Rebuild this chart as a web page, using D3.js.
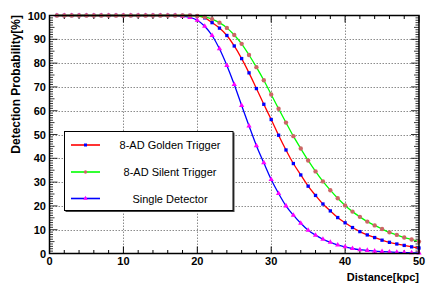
<!DOCTYPE html>
<html>
<head>
<meta charset="utf-8">
<script src="https://cdn.jsdelivr.net/npm/d3@7"></script>
<style>
body { margin:0; background:#fff; }
text { font-family: "Liberation Sans", Arial, sans-serif; }
</style>
</head>
<body>
<div id="graph"></div>
<script>
// distance in kpc
var distance = d3.range(1, 51);

// detection probability [%] per kpc
var golden = [100,100,100,100,100,100,100,100,100,100,100,100,100,100,100,100,100,100,100,99.8,
  99.0,97.0,94.7,91.6,87.2,81.9,75.9,69.3,62.7,56.3,
  49.7,43.5,37.8,33.0,28.3,24.4,20.8,17.9,15.1,12.9,
  10.9,9.2,7.8,6.7,5.6,4.7,4.0,3.4,2.8,2.3];
var silent = [100,100,100,100,100,100,100,100,100,100,100,100,100,100,100,100,100,100,100,99.8,
  99.4,98.5,97.0,94.8,91.8,88.1,83.4,78.3,72.8,66.8,
  60.8,55.0,49.3,44.1,39.1,34.5,30.3,26.6,23.2,20.2,
  17.6,15.4,13.4,11.8,10.3,8.9,7.8,6.7,5.9,5.0];
var single = [100,100,100,100,100,100,100,100,100,100,100,100,100,100,100,100,100,99.7,99.2,98.0,
  95.5,91.6,86.0,79.0,71.0,62.2,53.6,45.3,38.1,31.1,
  25.2,20.0,16.1,12.7,9.8,7.7,6.0,4.7,3.6,2.8,
  2.1,1.6,1.3,1.0,0.8,0.65,0.5,0.4,0.3,0.25];

var xTicks = [0,10,20,30,40,50];
var yTicks = [0,10,20,30,40,50,60,70,80,90,100];
var legendNames = ["8-AD Golden Trigger", "8-AD Silent Trigger", "Single Detector"];

var w = 436, h = 291;
var fLeft = 49.5, fRight = 419, fTop = 15.5, fBottom = 253.5;

var svg = d3.select("#graph").append("svg")
  .attr("width", w).attr("height", h);

var x = d3.scaleLinear().domain([0, 50]).range([fLeft, fRight]);
var y = d3.scaleLinear().domain([0, 100]).range([fBottom, fTop]);

// grid
var grid = svg.append("g").attr("stroke", "#8c8c8c").attr("stroke-width", 1)
  .attr("stroke-dasharray", "1.5,1.5");
grid.selectAll("line.gx").data(xTicks.slice(1, -1)).enter().append("line")
  .attr("x1", function(d){ return Math.round(x(d)) + 0.5; })
  .attr("x2", function(d){ return Math.round(x(d)) + 0.5; })
  .attr("y1", fTop).attr("y2", fBottom);
grid.selectAll("line.gy").data(yTicks.slice(1, -1)).enter().append("line")
  .attr("y1", function(d){ return Math.round(y(d)) + 0.5; })
  .attr("y2", function(d){ return Math.round(y(d)) + 0.5; })
  .attr("x1", fLeft).attr("x2", fRight);

// ticks pointing inside the frame, on all four sides
var ax = svg.append("g");
var xMinor = d3.range(0, 51, 2);
ax.selectAll("line.xt").data(xMinor).enter().append("line")
  .attr("x1", function(d){ return x(d); }).attr("x2", function(d){ return x(d); })
  .attr("y1", fBottom).attr("y2", function(d){ return fBottom - (d % 10 == 0 ? 7 : 3.5); })
  .attr("stroke", "#000");
ax.selectAll("line.xt2").data(xMinor).enter().append("line")
  .attr("x1", function(d){ return x(d); }).attr("x2", function(d){ return x(d); })
  .attr("y1", fTop).attr("y2", function(d){ return fTop + (d % 10 == 0 ? 7 : 3.5); })
  .attr("stroke", "#000");
var yMinor = d3.range(0, 101, 1);
ax.selectAll("line.yt").data(yMinor).enter().append("line")
  .attr("y1", function(d){ return y(d); }).attr("y2", function(d){ return y(d); })
  .attr("x1", fLeft).attr("x2", function(d){ return fLeft + (d % 10 == 0 ? 8 : (d % 5 == 0 ? 5 : 3.5)); })
  .attr("stroke", "#000").attr("stroke-width", 0.8);
ax.selectAll("line.yt2").data(yMinor).enter().append("line")
  .attr("y1", function(d){ return y(d); }).attr("y2", function(d){ return y(d); })
  .attr("x1", fRight).attr("x2", function(d){ return fRight - (d % 10 == 0 ? 8 : (d % 5 == 0 ? 5 : 3.5)); })
  .attr("stroke", "#000").attr("stroke-width", 0.8);

// tick labels
svg.append("g").selectAll("text").data(xTicks).enter().append("text")
  .attr("x", function(d){ return x(d); }).attr("y", 265)
  .attr("text-anchor", "middle").attr("font-size", 11).attr("font-weight", "bold")
  .text(function(d){ return d; });
svg.append("g").selectAll("text").data(yTicks).enter().append("text")
  .attr("x", 46).attr("y", function(d){ return y(d) + 4; })
  .attr("text-anchor", "end").attr("font-size", 11).attr("font-weight", "bold")
  .text(function(d){ return d; });

// titles
svg.append("text").attr("x", 419).attr("y", 281)
  .attr("text-anchor", "end").attr("font-size", 11).attr("font-weight", "bold")
  .text("Distance[kpc]");
svg.append("text").attr("transform", "translate(20,15) rotate(-90)")
  .attr("text-anchor", "end").attr("font-size", 12).attr("font-weight", "bold")
  .text("Detection Probability[%]");

// series
var series = [
  { name: legendNames[2], values: single, line: "#0000ff", mark: "#ff00ff", shape: d3.symbolTriangle, size: 12 },
  { name: legendNames[0], values: golden, line: "#ff0000", mark: "#0000ff", shape: d3.symbolSquare, size: 11 },
  { name: legendNames[1], values: silent, line: "#00ff00", mark: "#cc6666", shape: d3.symbolCircle, size: 15 }
];

var line = d3.line()
  .x(function(d){ return x(d[0]); })
  .y(function(d){ return y(d[1]); })
  .curve(d3.curveMonotoneX);

var plot = svg.append("g");
series.forEach(function(s) {
  var pts = distance.map(function(d, i){ return [d, s.values[i]]; });
  plot.append("path").datum(pts)
    .attr("fill", "none").attr("stroke", s.line).attr("stroke-width", 1.3)
    .attr("d", line);
  plot.selectAll(null).data(pts).enter().append("path")
    .attr("transform", function(d){ return "translate(" + x(d[0]) + "," + y(d[1]) + ")"; })
    .attr("d", d3.symbol().type(s.shape).size(s.size))
    .attr("fill", s.mark);
});

// frame
svg.append("rect").attr("x", fLeft).attr("y", fTop)
  .attr("width", fRight - fLeft).attr("height", fBottom - fTop)
  .attr("fill", "none").attr("stroke", "#000").attr("stroke-width", 1.5);

// legend
var lg = svg.append("g");
lg.append("rect").attr("x", 65.5).attr("y", 132.5).attr("width", 169).attr("height", 79.5).attr("fill", "#444");
lg.append("rect").attr("x", 64.5).attr("y", 131.5).attr("width", 168.5).attr("height", 79)
  .attr("fill", "#fff").attr("stroke", "#000").attr("stroke-width", 1);
var order = [series[1], series[2], series[0]];
var rowY = [145, 172, 198.5];
order.forEach(function(s, i) {
  lg.append("line").attr("x1", 71).attr("x2", 100).attr("y1", rowY[i]).attr("y2", rowY[i])
    .attr("stroke", s.line).attr("stroke-width", 1.6);
  lg.append("path").attr("transform", "translate(85.5," + rowY[i] + ")")
    .attr("d", d3.symbol().type(s.shape).size(9)).attr("fill", s.mark);
  lg.append("text").attr("x", 170).attr("y", rowY[i] + 4)
    .attr("text-anchor", "middle").attr("font-size", 11)
    .text(s.name);
});
</script>
</body>
</html>
